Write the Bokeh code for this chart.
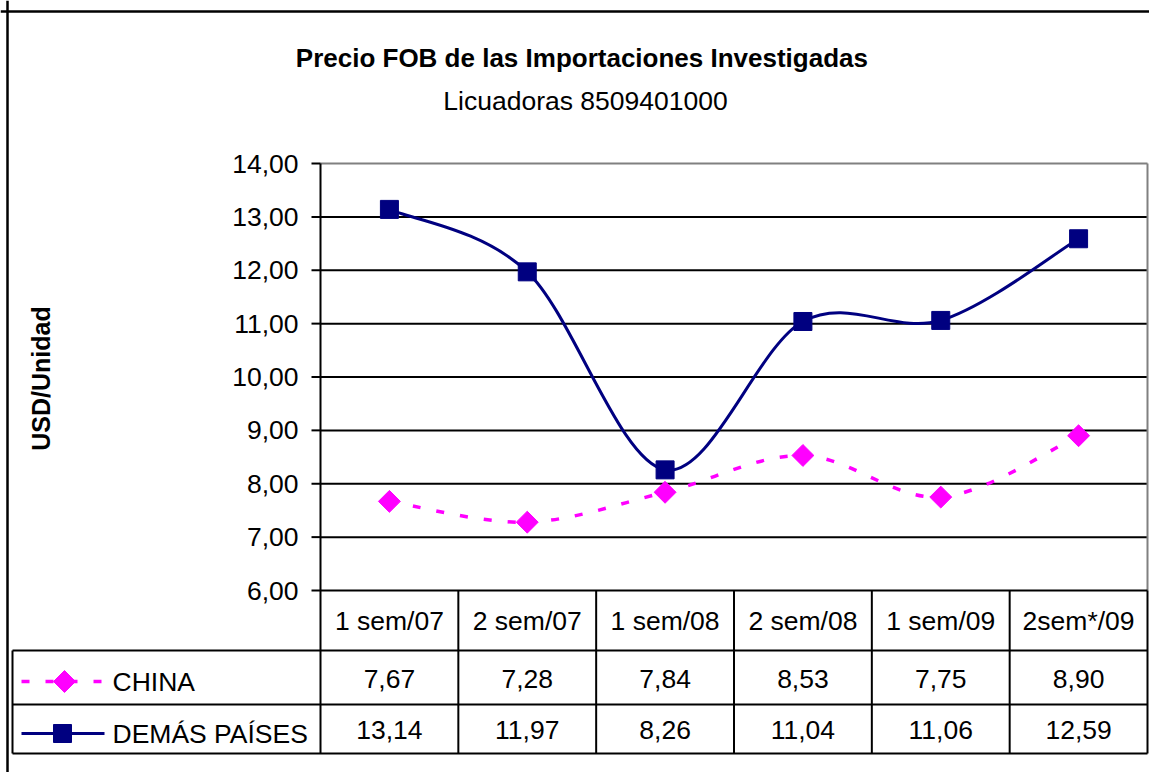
import math
from bokeh.plotting import figure
from bokeh.models import Range1d, ColumnDataSource, Span
from bokeh.core.properties import value
from bokeh.embed import file_html
from bokeh.resources import INLINE

# ---------------- data ----------------
categories = ["1 sem/07", "2 sem/07", "1 sem/08", "2 sem/08", "1 sem/09", "2sem*/09"]
china = [7.67, 7.28, 7.84, 8.53, 7.75, 8.90]
demas = [13.14, 11.97, 8.26, 11.04, 11.06, 12.59]
y_ticks = [6, 7, 8, 9, 10, 11, 12, 13, 14]
series_names = ["CHINA", "DEMÁS PAÍSES"]
title_text = "Precio FOB de las Importaciones  Investigadas"
subtitle_text = "Licuadoras 8509401000"
ylabel_text = "USD/Unidad"

# ---------------- layout ----------------
W, H = 1149, 772
ORIG = 0
AXIS_PX, RIGHT_PX = 320, 1147
TOP_PX, BASE_PX = 163, 590
n = len(categories)
y_lo, y_hi = y_ticks[0], y_ticks[-1]
KX = (RIGHT_PX - AXIS_PX) / n
KY = (BASE_PX - TOP_PX) / (y_hi - y_lo)
XS = -0.5 - (AXIS_PX - ORIG) / KX
XE = XS + W / KX
YT = y_hi + (TOP_PX - ORIG) / KY
YB = YT - H / KY


def X(px):
    return XS + (px - ORIG) / KX


def Y(py):
    return YT - (py - ORIG) / KY


FONT = value("Liberation Sans")
FS = "26.5px"
NAVY = "#000080"
MAGENTA = "#FF00FF"

p = figure(width=W, height=H, x_range=Range1d(XS, XE), y_range=Range1d(YB, YT),
           output_backend="svg", toolbar_location=None, min_border=0,
           x_axis_type=None, y_axis_type=None, title=None)
p.outline_line_color = None
p.background_fill_color = "white"
p.border_fill_color = "white"

x_left, x_right = -0.5, n - 0.5
row1_py, row2_py, row3_py = 650, 704, 753
TABLE_LEFT = 12

# outer chart border (left and top)
p.add_layout(Span(location=X(7), dimension="height", line_color="black", line_width=2.5))
p.add_layout(Span(location=Y(11), dimension="width", line_color="black", line_width=2.5))

# gridlines
grid_y = [v for v in y_ticks if v > y_lo]
grid_col = ["#808080" if v == y_hi else "black" for v in grid_y]
p.segment(x0=[x_left] * len(grid_y), x1=[x_right] * len(grid_y), y0=grid_y, y1=grid_y,
          line_color=grid_col, line_width=2)
p.segment(x0=[x_right], x1=[x_right], y0=[y_lo], y1=[y_hi], line_color="#808080", line_width=2)

# value axis line + ticks
p.segment(x0=[x_left], x1=[x_left], y0=[Y(row3_py)], y1=[y_hi], line_color="black", line_width=2)
p.segment(x0=[X(311)] * len(y_ticks), x1=[x_left] * len(y_ticks), y0=y_ticks, y1=y_ticks,
          line_color="black", line_width=2)
tick_labels = [f"{v:.2f}".replace(".", ",") for v in y_ticks]
p.text(x=[X(298)] * len(y_ticks), y=y_ticks, text=tick_labels, text_font=FONT,
       text_font_size=FS, text_align="right", text_baseline="middle", text_color="black")

# table lines
p.segment(x0=[x_left], x1=[x_right], y0=[y_lo], y1=[y_lo], line_color="black", line_width=2)
for py in (row1_py, row2_py, row3_py):
    p.segment(x0=[X(TABLE_LEFT)], x1=[x_right], y0=[Y(py)], y1=[Y(py)], line_color="black", line_width=2)
p.segment(x0=[X(TABLE_LEFT)], x1=[X(TABLE_LEFT)], y0=[Y(row1_py)], y1=[Y(row3_py)],
          line_color="black", line_width=2)
bounds = [i + 0.5 for i in range(n)]
p.segment(x0=bounds, x1=bounds, y0=[y_lo] * n, y1=[Y(row3_py)] * n, line_color="black", line_width=2)

xs = list(range(n))
fmt = lambda v: f"{v:.2f}".replace(".", ",")
p.text(x=xs, y=[Y((BASE_PX + row1_py) / 2)] * n, text=categories, text_font=FONT,
       text_font_size=FS, text_align="center", text_baseline="middle", text_color="black")
p.text(x=xs, y=[Y((row1_py + row2_py) / 2 + 1)] * n, text=[fmt(v) for v in china], text_font=FONT,
       text_font_size=FS, text_align="center", text_baseline="middle", text_color="black")
p.text(x=xs, y=[Y((row2_py + row3_py) / 2 + 1)] * n, text=[fmt(v) for v in demas], text_font=FONT,
       text_font_size=FS, text_align="center", text_baseline="middle", text_color="black")


# smoothed curves (cubic Bezier, Catmull-Rom style control points)
def bezier_src(xv, yv):
    m = len(xv)
    d = dict(x0=[], y0=[], x1=[], y1=[], cx0=[], cy0=[], cx1=[], cy1=[])
    for i in range(m - 1):
        a = max(i - 1, 0)
        b = min(i + 2, m - 1)
        d["x0"].append(xv[i]); d["y0"].append(yv[i])
        d["x1"].append(xv[i + 1]); d["y1"].append(yv[i + 1])
        d["cx0"].append(xv[i] + (xv[i + 1] - xv[a]) / 6)
        d["cy0"].append(yv[i] + (yv[i + 1] - yv[a]) / 6)
        d["cx1"].append(xv[i + 1] - (xv[b] - xv[i]) / 6)
        d["cy1"].append(yv[i + 1] - (yv[b] - yv[i]) / 6)
    return ColumnDataSource(d)


p.bezier(x0="x0", y0="y0", x1="x1", y1="y1", cx0="cx0", cy0="cy0", cx1="cx1", cy1="cy1",
         source=bezier_src(xs, china), line_color=MAGENTA, line_width=3.5, line_dash="8 16")
p.bezier(x0="x0", y0="y0", x1="x1", y1="y1", cx0="cx0", cy0="cy0", cx1="cx1", cy1="cy1",
         source=bezier_src(xs, demas), line_color=NAVY, line_width=3)
p.scatter(x=xs, y=china, marker="square", angle=math.pi / 4, size=15.5,
          fill_color=MAGENTA, line_color=MAGENTA)
p.scatter(x=xs, y=demas, marker="square", size=18, fill_color=NAVY, line_color=NAVY)

# legend keys in table
cy1, cy2 = Y(681), Y(733)
p.line(x=[X(21), X(101)], y=[cy1, cy1], line_color=MAGENTA, line_width=3.5, line_dash="8 16")
p.scatter(x=[X(64)], y=[cy1], marker="square", angle=math.pi / 4, size=15.5,
          fill_color=MAGENTA, line_color=MAGENTA)
p.line(x=[X(21), X(104)], y=[cy2, cy2], line_color=NAVY, line_width=3)
p.scatter(x=[X(62)], y=[cy2], marker="square", size=18, fill_color=NAVY, line_color=NAVY)
p.text(x=[X(112), X(112)], y=[cy1, cy2], text=series_names, text_font=FONT, text_font_size=FS,
       text_align="left", text_baseline="middle", text_color="black")

# titles
p.text(x=[X(585)], y=[Y(57)], text=[title_text], text_font=FONT, text_font_size="26px",
       text_font_style="bold", text_align="center", text_baseline="middle", text_color="black")
p.text(x=[X(585)], y=[Y(100)], text=[subtitle_text], text_font=FONT, text_font_size=FS,
       text_align="center", text_baseline="middle", text_color="black")
p.text(x=[X(40)], y=[Y(378)], text=[ylabel_text], angle=math.pi / 2, text_font=FONT,
       text_font_size="25px", text_font_style="bold", text_align="center", text_baseline="middle",
       text_color="black")

open("out.html", "w").write(file_html(p, INLINE))
